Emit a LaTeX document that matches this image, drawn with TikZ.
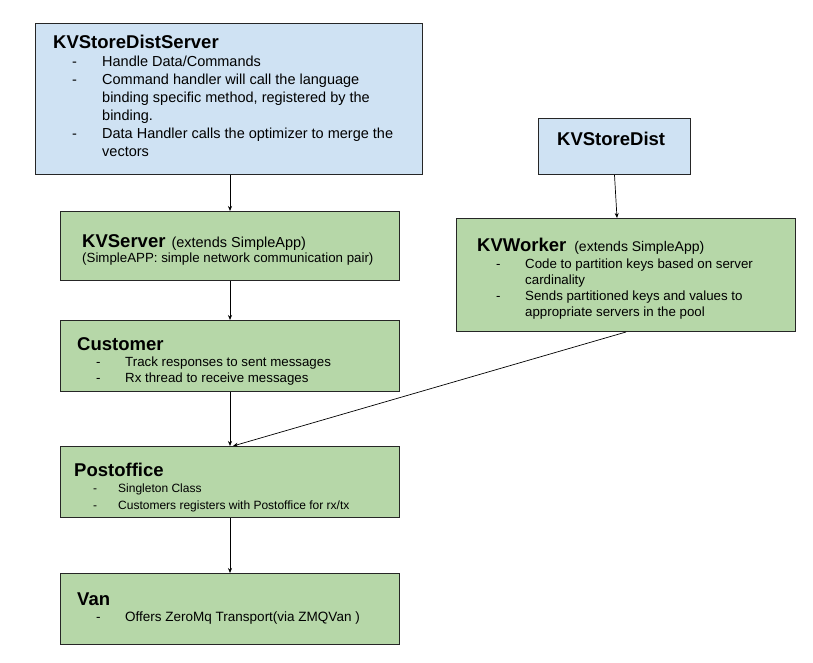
\documentclass[tikz,border=0pt]{standalone}
\usepackage{fontspec}
\setmainfont{Liberation Sans}
\usepackage{tikz}
\usetikzlibrary{arrows.meta}
\definecolor{boxblue}{HTML}{CFE2F3}
\definecolor{boxgreen}{HTML}{B6D7A8}
\tikzstyle{arrow} = [line width=0.7pt,-{Stealth[length=5pt,width=4pt]}]
\tikzstyle{box} = [draw=black!85, line width=1pt, anchor=north west, inner sep=0pt]
\tikzstyle{txt} = [anchor=base west, inner sep=0pt, align=left]
\newcommand{\ttl}[1]{{\fontsize{18.5}{20}\selectfont\bfseries #1}}
\newcommand{\bul}[2][48pt]{\hspace*{19pt}\makebox[\dimexpr#1-19pt\relax][l]{-}#2}

\begin{document}
\begin{tikzpicture}[x=1pt,y=-1pt]
    \useasboundingbox (0,0) rectangle (813,663);

    % boxes
    \node[box, fill=boxblue, minimum width=387pt, minimum height=151pt] (srv) at (35,23) {};
    \node[box, fill=boxblue, minimum width=152pt, minimum height=56pt] (dist) at (538,118) {};
    \node[box, fill=boxgreen, minimum width=339pt, minimum height=69pt] (kvs) at (60,211) {};
    \node[box, fill=boxgreen, minimum width=339pt, minimum height=113pt] (kvw) at (456,218) {};
    \node[box, fill=boxgreen, minimum width=339pt, minimum height=71pt] (cust) at (60,320) {};
    \node[box, fill=boxgreen, minimum width=339pt, minimum height=71pt] (post) at (60,446) {};
    \node[box, fill=boxgreen, minimum width=339pt, minimum height=71pt] (van) at (60,573) {};

    % texts (placed by the baseline of their last line)
    \node[txt, font=\fontsize{14.5}{18}\selectfont] (srvtxt) at (53,157) {\ttl{KVStoreDistServer}\\
        \bul[49pt]{Handle Data/Commands}\\
        \bul[49pt]{Command handler will call the language}\\
        \hspace*{49pt}binding specific method, registered by the\\
        \hspace*{49pt}binding.\\
        \bul[49pt]{Data Handler calls the optimizer to merge the}\\
        \hspace*{49pt}vectors};
    \node[txt] (disttxt) at (557,146) {\ttl{KVStoreDist}};
    \node[txt, font=\fontsize{13.3}{15.5}\selectfont] (kvstxt) at (82,262.5) {\ttl{KVServer}\hspace{6pt}{\fontsize{14.5}{15.5}\selectfont(extends SimpleApp)}\\
        (SimpleAPP: simple network communication pair)};
    \node[txt, font=\fontsize{13.3}{16}\selectfont] (kvwtxt) at (477,316.5) {\ttl{KVWorker}\hspace{8pt}{\fontsize{14}{16}\selectfont(extends SimpleApp)}\\[1.5pt]
        \bul{Code to partition keys based on server}\\
        \hspace*{48pt}cardinality\\
        \bul{Sends partitioned keys and values to}\\
        \hspace*{48pt}appropriate servers in the pool};
    \node[txt, font=\fontsize{13.3}{16}\selectfont] (custtxt) at (77,382.5) {\ttl{Customer}\\[0.5pt]
        \bul{Track responses to sent messages}\\
        \bul{Rx thread to receive messages}};
    \node[txt, font=\fontsize{12}{17}\selectfont] (posttxt) at (74,509.5) {\ttl{Postoffice}\\[-0.5pt]
        \bul[44pt]{Singleton Class}\\
        \bul[44pt]{Customers registers with Postoffice for rx/tx}};
    \node[txt, font=\fontsize{13.5}{16}\selectfont] (vantxt) at (77,621.5) {\ttl{Van}\\[0.5pt]
        \bul{Offers ZeroMq Transport(via ZMQVan )}};

    % connectors
    \draw[arrow] (kvs.north |- srv.south) -- (kvs.north);
    \draw[arrow] (dist.south) -- ([xshift=-9pt]kvw.north);
    \draw[arrow] (kvs.south) -- (cust.north);
    \draw[arrow] (cust.south) -- (post.north);
    \draw[arrow] (kvw.south) -- ([xshift=3pt]post.north);
    \draw[arrow] (post.south) -- (van.north);
\end{tikzpicture}
\end{document}
